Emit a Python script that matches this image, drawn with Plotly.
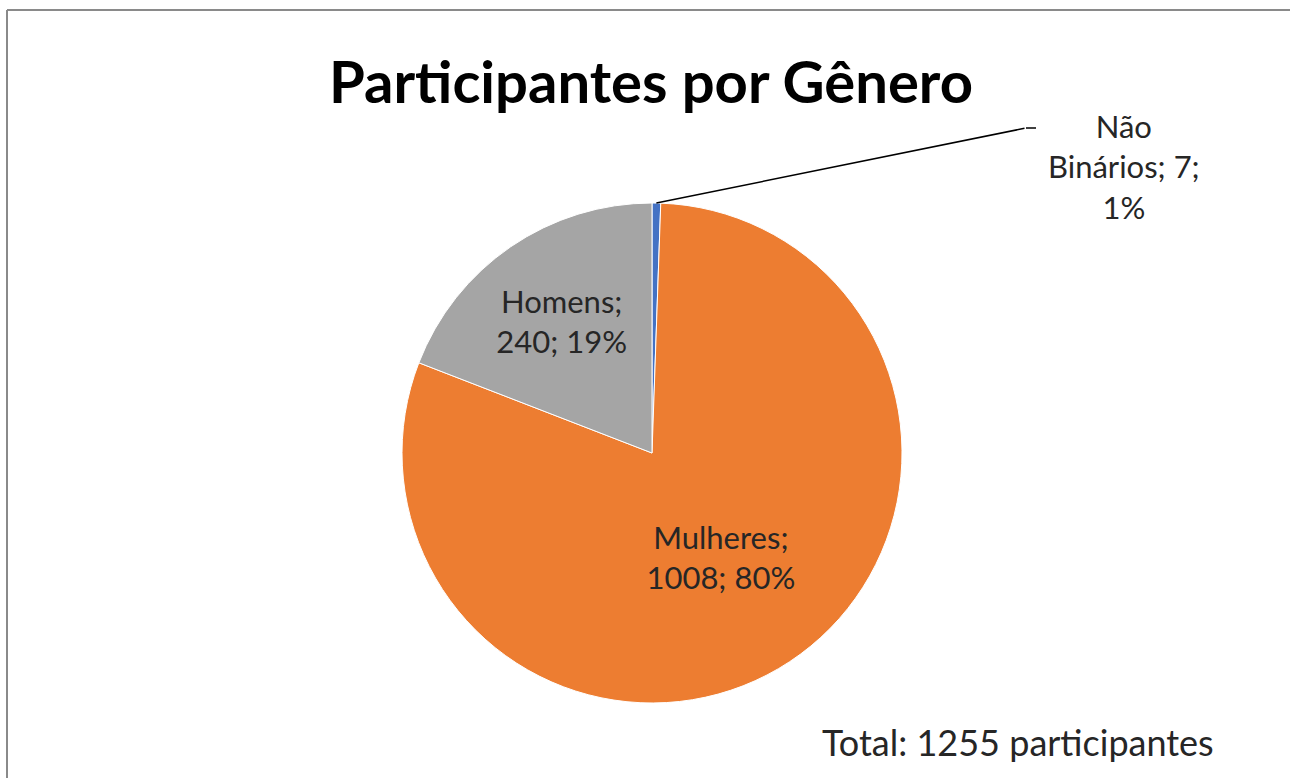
import math
import plotly.graph_objects as go

# Data
categories = ["Não Binários", "Mulheres", "Homens"]
values = [7, 1008, 240]
percents = ["1%", "80%", "19%"]
colors = ["#4472C4", "#ED7D31", "#A5A5A5"]
title_text = "Participantes por Gênero"
total_text = "Total: 1255 participantes"

W, H = 1290, 778
cx, cy, R = 652, 453, 250  # pie center / radius in pixels

def px(x):
    return x / W

def py(y):
    return (H - y) / H

texts = []
for c, v, p in zip(categories, values, percents):
    if c == "Não Binários":
        texts.append("")
    else:
        texts.append(f"{c};<br>{v}; {p}")

LABEL_FONT = dict(family="Lato", size=31, color="#262626")

fig = go.Figure(go.Pie(
    labels=categories,
    values=values,
    text=texts,
    textinfo="text",
    textposition="inside",
    insidetextorientation="horizontal",
    sort=False,
    direction="clockwise",
    rotation=0,
    marker=dict(colors=colors, line=dict(color="white", width=1)),
    textfont=LABEL_FONT,
    hoverinfo="label+value+percent",
    showlegend=False,
    domain=dict(x=[px(cx - R), px(cx + R)], y=[py(cy + R), py(cy - R)]),
))

# leader line for tiny slice: start at mid-angle of first slice on the rim
ang = math.radians(values[0] / sum(values) * 360 / 2)
sx = cx + R * math.sin(ang)
sy = cy - R * math.cos(ang)
ex, ey = 1026, 128

fig.add_annotation(
    x=px(sx), y=py(sy), xref="paper", yref="paper",
    ax=ex - sx, ay=ey - sy, axref="pixel", ayref="pixel",
    text="", showarrow=True, arrowhead=0, arrowwidth=1.5, arrowcolor="#000000",
    standoff=0, startstandoff=0,
)
fig.add_shape(type="line", xref="paper", yref="paper",
              x0=px(ex), y0=py(ey), x1=px(ex + 10), y1=py(ey),
              line=dict(color="#000000", width=1.5))

fig.add_annotation(
    x=px(1124), y=py(167), xref="paper", yref="paper",
    xanchor="center", yanchor="middle",
    text=f"Não<br>Binários; {values[0]};<br>{percents[0]}",
    showarrow=False, align="center",
    font=LABEL_FONT,
)

fig.add_annotation(
    x=px(1018), y=py(742), xref="paper", yref="paper",
    xanchor="center", yanchor="middle",
    text=total_text, showarrow=False,
    font=dict(family="Lato", size=36, color="#262626"),
)

# chart border (left and top edges only; right/bottom are outside the crop)
fig.add_shape(type="line", xref="paper", yref="paper",
              x0=px(7), y0=0, x1=px(7), y1=py(10),
              line=dict(color="#8a8a8a", width=2))
fig.add_shape(type="line", xref="paper", yref="paper",
              x0=px(7), y0=py(10), x1=1, y1=py(10),
              line=dict(color="#8a8a8a", width=2))

fig.update_layout(
    width=W, height=H,
    margin=dict(l=0, r=0, t=0, b=0),
    paper_bgcolor="white", plot_bgcolor="white",
    title=dict(text=f"<b>{title_text}</b>", x=px(651), y=py(83),
               xanchor="center", yanchor="middle",
               font=dict(family="Lato", size=58, color="#000000")),
)

fig.write_html(
    "out.html", config={"displayModeBar": False},
    post_script="document.body.style.margin='0';document.body.style.overflow='hidden';"
                "document.documentElement.style.overflow='hidden';",
)
